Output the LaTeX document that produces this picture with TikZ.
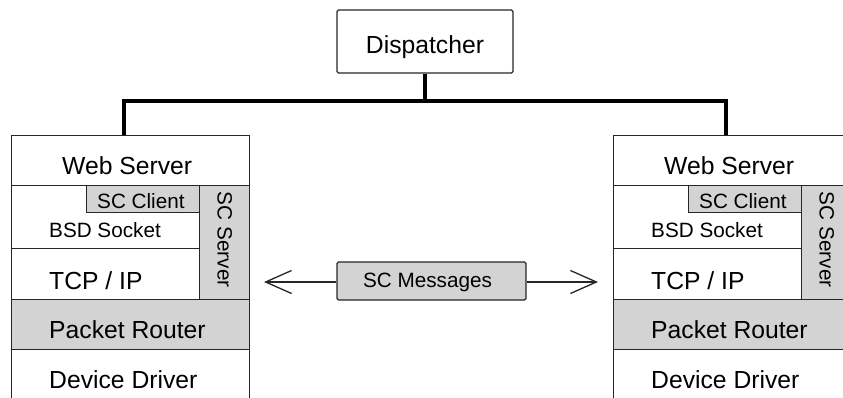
\documentclass[tikz,border=0pt]{standalone}
\usepackage{fontspec}
\setmainfont{Liberation Sans}
\usetikzlibrary{arrows.meta,calc}

\definecolor{layergray}{HTML}{D3D3D3}
\definecolor{edge}{HTML}{262626}

\tikzset{
  layer/.style={draw=edge, line width=1.4pt, rectangle, inner sep=0pt, anchor=north west},
  shaded/.style={layer, fill=layergray},
  bigtxt/.style={inner sep=0pt, font=\fontsize{24.7}{28}\selectfont, text=black},
  smalltxt/.style={inner sep=0pt, font=\fontsize{20.7}{24}\selectfont, text=black},
  bus/.style={line width=3.6pt, black},
  msgarrow/.style={draw=edge, line width=1.3pt, -{Straight Barb[length=26pt, width=23pt, line width=1.3pt]}},
}

% one protocol stack, #1 = name prefix, #2 = left edge
\newcommand\protostack[2]{%
  \begin{scope}[shift={(#2,0)}]
    \node[layer, minimum width=238, minimum height=50] (#1web) at (0,262) {};
    \node[layer, minimum width=188, minimum height=63] (#1bsd) at (0,212) {};
    \node[shaded, minimum width=113, minimum height=27] (#1cli) at (75,212) {};
    \node[layer, minimum width=188, minimum height=51] (#1tcp) at (0,149) {};
    \node[shaded, minimum width=50, minimum height=114] (#1srv) at (188,212) {};
    \node[shaded, minimum width=238, minimum height=50] (#1pr) at (0,98) {};
    \node[layer, minimum width=238, minimum height=70] (#1dd) at (0,48) {};
    \node[bigtxt, anchor=base west] (#1webt) at ($(#1web.south west)+(51,12)$) {Web Server};
    \node[smalltxt, anchor=base west] (#1clit) at ($(#1cli.south west)+(11,5)$) {SC Client};
    \node[smalltxt, anchor=base west] (#1bsdt) at ($(#1bsd.south west)+(38,12)$) {BSD Socket};
    \node[bigtxt, anchor=base west] (#1tcpt) at ($(#1tcp.south west)+(38,11)$) {TCP / IP};
    \node[smalltxt, rotate=-90] (#1srvt) at ($(#1srv.center)+(0,3)$) {SC Server};
    \node[bigtxt, anchor=base west] (#1prt) at ($(#1pr.south west)+(38,12)$) {Packet Router};
    \node[bigtxt, anchor=base west] (#1ddt) at ($(#1dd.north west)+(38,-39)$) {Device Driver};
  \end{scope}}

\begin{document}
\begin{tikzpicture}[x=1pt, y=1pt]
  \useasboundingbox (0,0) rectangle (843,397);
  \clip (0,0) rectangle (843,397);

  % dispatcher and its bus
  \node[layer, anchor=center, rounded corners=1.5pt, minimum width=176, minimum height=63] (disp) at (425,355.5) {};
  \node[bigtxt, anchor=base] (dispt) at ($(disp.south)+(0,20)$) {Dispatcher};

  \protostack{l}{11}
  \protostack{r}{613}

  \coordinate (busl) at (124,296);
  \coordinate (busr) at (726,296);
  \coordinate (busm) at (disp.south |- busl);
  \draw[bus] (disp.south) -- (busm);
  \draw[bus] (lweb.north -| busl) -- (busl) -- (busr) -- (rweb.north -| busr);

  % message exchange between the two servers
  \node[shaded, anchor=center, rounded corners=1.5pt, minimum width=189, minimum height=38] (msg) at (431.5,116) {};
  \node[smalltxt, anchor=base] (msgt) at ($(msg.south)+(-4,13)$) {SC Messages};
  \coordinate (tipl) at (264,115);
  \coordinate (tipr) at (598,115);
  \draw[msgarrow] (msg.west |- tipl) -- (tipl);
  \draw[msgarrow] (msg.east |- tipr) -- (tipr);
\end{tikzpicture}
\end{document}
